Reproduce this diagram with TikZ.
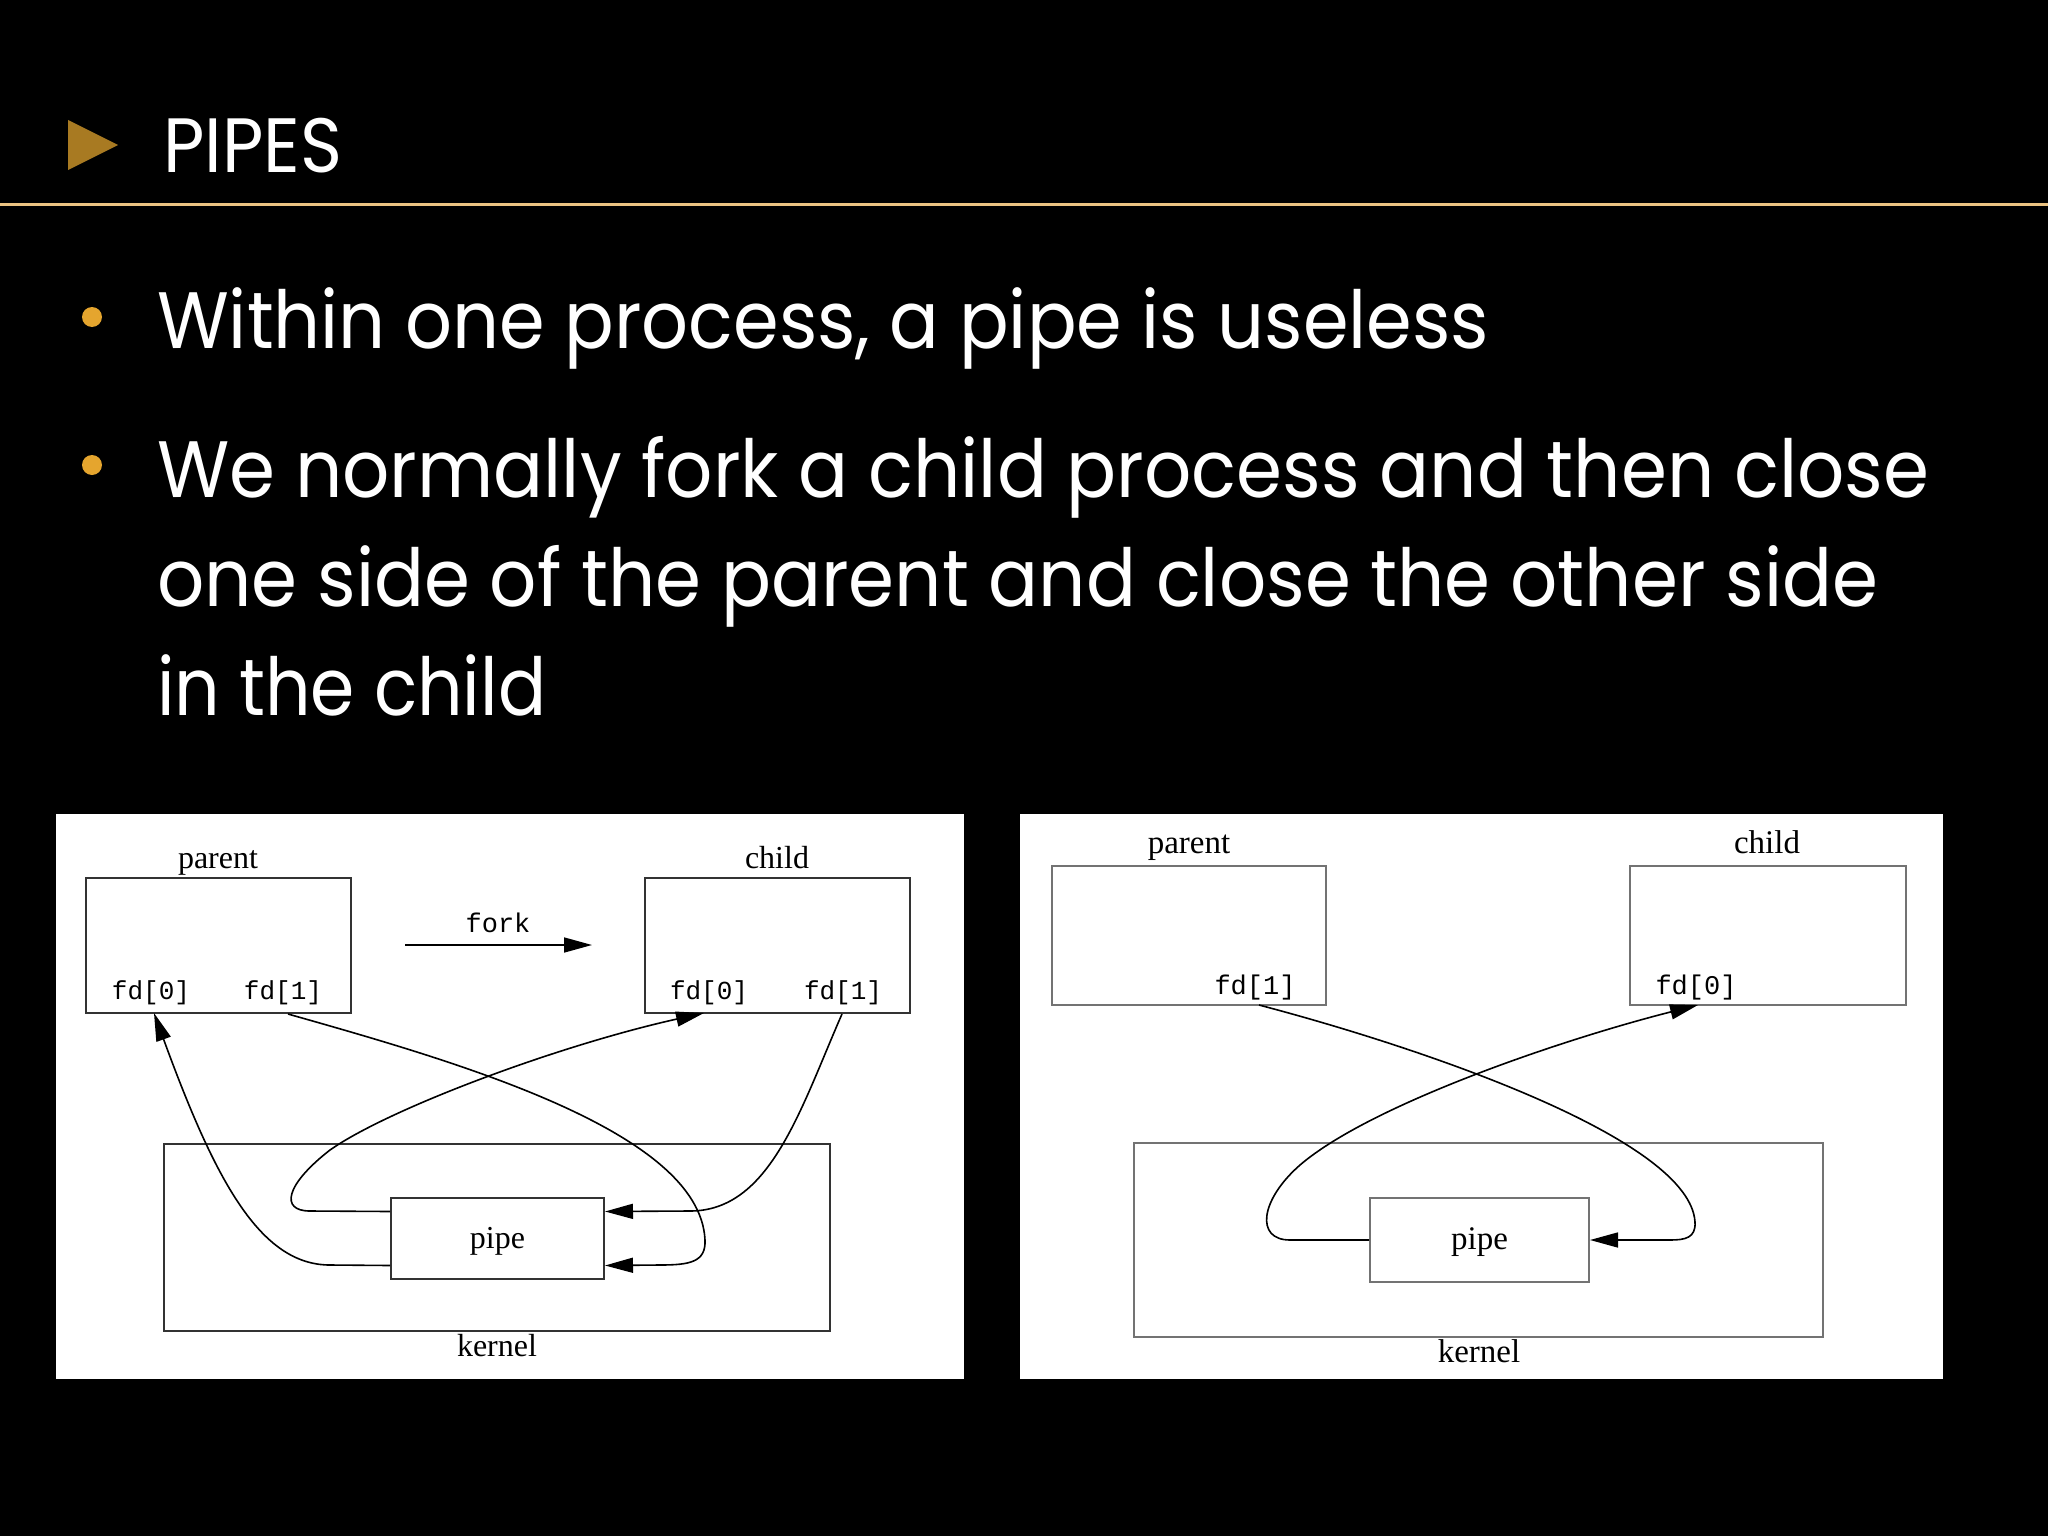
\documentclass[tikz,border=0pt]{standalone}
\usepackage{graphicx}
\usepackage{fontspec}
\setmainfont{Liberation Serif}
\newfontfamily\slidefont{Poppins}
\newfontfamily\codefont{Liberation Mono}
\usetikzlibrary{arrows.meta,calc}
\definecolor{tricol}{RGB}{168,122,34}
\definecolor{bulcol}{RGB}{229,165,46}
\definecolor{rulecol}{RGB}{235,195,130}
\newcommand{\fitw}[2]{\resizebox{#1}{\height}{#2}}
\tikzset{
  procbox/.style={draw=#1, line width=2pt, inner sep=0pt, fill=white},
  serif/.style={font=\fontsize{32}{32}\selectfont, inner sep=0pt, anchor=base},
  mono/.style={font=\codefont\fontsize{26}{26}\selectfont, inner sep=0pt, anchor=base},
  wire/.style={draw=black, line width=1.6pt},
  arr/.style={-{Triangle[length=28pt,width=15pt]}},
  slide/.style={anchor=base west, inner sep=0pt, text=white,
    font=\slidefont\fontsize{80}{80}\selectfont}
}
\begin{document}
\begin{tikzpicture}[x=1pt,y=-1pt]
\fill[black] (0,0) rectangle (2048,1536);
\useasboundingbox (0,0) rectangle (2048,1536);

% title
\fill[tricol] (68,120) -- (118,145) -- (68,170) -- cycle;
\node[slide, font=\slidefont\fontsize{77}{77}\selectfont] (title) at (163,172) {\fitw{179pt}{PIPES}};
\draw[rulecol, line width=2.5pt] (0,204.5) -- (2048,204.5);

% bullets
\fill[bulcol] (92,317) circle (10);
\fill[bulcol] (92,465) circle (10);
\node[slide] (b1) at (157,348) {\fitw{1332pt}{Within one process, a pipe is useless}};
\node[slide] (b2a) at (157,497) {\fitw{1772pt}{We normally fork a child process and then close}};
\node[slide] (b2b) at (157,606) {\fitw{1721pt}{one side of the parent and close the other side}};
\node[slide] (b2c) at (157,715) {\fitw{389pt}{in the child}};

% panels
\fill[white] (56,814) rectangle (964,1379);
\fill[white] (1020,814) rectangle (1943,1379);

% ---------- left diagram ----------
\node[procbox=black!80, minimum width=666pt, minimum height=187pt] (lkern) at (497,1237.5) {};
\node[serif] (lkernl) at (497,1356) {kernel};
\node[procbox=black!80, minimum width=213pt, minimum height=81pt] (lpipe) at (497.5,1238.5) {};
\node[serif] (lpipel) at (497.5,1248) {pipe};
\node[procbox=black!80, minimum width=265pt, minimum height=135pt] (lpar) at (218.5,945.5) {};
\node[procbox=black!80, minimum width=265pt, minimum height=135pt] (lchi) at (777.5,945.5) {};
\node[serif] (lparl) at (218,868) {parent};
\node[serif] (lchil) at (777,868) {child};
\node[mono] (lpfd0) at (151,999) {fd[0]};
\node[mono] (lpfd1) at (283,999) {fd[1]};
\node[mono] (lcfd0) at (709,999) {fd[0]};
\node[mono] (lcfd1) at (843,999) {fd[1]};
\node[mono, font=\codefont\fontsize{27}{27}\selectfont] (lfork) at (498,932) {fork};
\coordinate (lforkA) at (405,945);
\coordinate (lforkB) at (592,945);
\draw[wire, arr] (lforkA) -- (lforkB);

\coordinate (lpLu) at ([yshift=27pt]lpipe.west);
\coordinate (lpLd) at ([yshift=-27pt]lpipe.west);
\coordinate (lpRu) at ([yshift=27pt]lpipe.east);
\coordinate (lpRd) at ([yshift=-27pt]lpipe.east);
\coordinate (lpar0) at (154,1013);
\coordinate (lpar1) at (288,1014);
\coordinate (lchi0) at (704,1013);
\coordinate (lchi1) at (842,1014);

\draw[wire, arr] (lpLd) -- (330,1265) .. controls (260,1265) and (215,1180) .. (lpar0);
\draw[wire, arr] (lpar1) .. controls (450,1060) and (700,1130) .. (705,1240)
   .. controls (706,1262) and (690,1265) .. (660,1265) -- (lpRd);
\draw[wire, arr] (lpLu) -- (310,1211) .. controls (280,1211) and (285,1185) .. (330,1150)
   .. controls (390,1108) and (560,1045) .. (lchi0);
\draw[wire, arr] (lchi1) .. controls (800,1110) and (770,1211) .. (690,1211) -- (lpRu);

% ---------- right diagram ----------
\node[procbox=black!55, minimum width=689pt, minimum height=194pt] (rkern) at (1478.5,1240) {};
\node[serif, font=\fontsize{33}{33}\selectfont] (rkernl) at (1479,1362) {kernel};
\node[procbox=black!55, minimum width=219pt, minimum height=84pt] (rpipe) at (1479.5,1240) {};
\node[serif, font=\fontsize{33}{33}\selectfont] (rpipel) at (1479.5,1249) {pipe};
\node[procbox=black!55, minimum width=274pt, minimum height=139pt] (rpar) at (1189,935.5) {};
\node[procbox=black!55, minimum width=276pt, minimum height=139pt] (rchi) at (1768,935.5) {};
\node[serif, font=\fontsize{33}{33}\selectfont] (rparl) at (1189,853) {parent};
\node[serif, font=\fontsize{33}{33}\selectfont] (rchil) at (1767,853) {child};
\node[mono, font=\codefont\fontsize{27}{27}\selectfont] (rpfd1) at (1255,994) {fd[1]};
\node[mono, font=\codefont\fontsize{27}{27}\selectfont] (rcfd0) at (1696,994) {fd[0]};

\coordinate (rpar1) at (1259,1005);
\coordinate (rchi0) at (1698,1005);

\draw[wire, arr] (rpar1) .. controls (1430,1050) and (1690,1140) .. (1695,1222)
   .. controls (1696,1238) and (1685,1240) .. (1670,1240) -- (rpipe.east);
\draw[wire, arr] (rpipe.west) -- (1290,1240) .. controls (1255,1240) and (1260,1200) .. (1300,1165)
   .. controls (1370,1105) and (1560,1040) .. (rchi0);
\end{tikzpicture}
\end{document}
